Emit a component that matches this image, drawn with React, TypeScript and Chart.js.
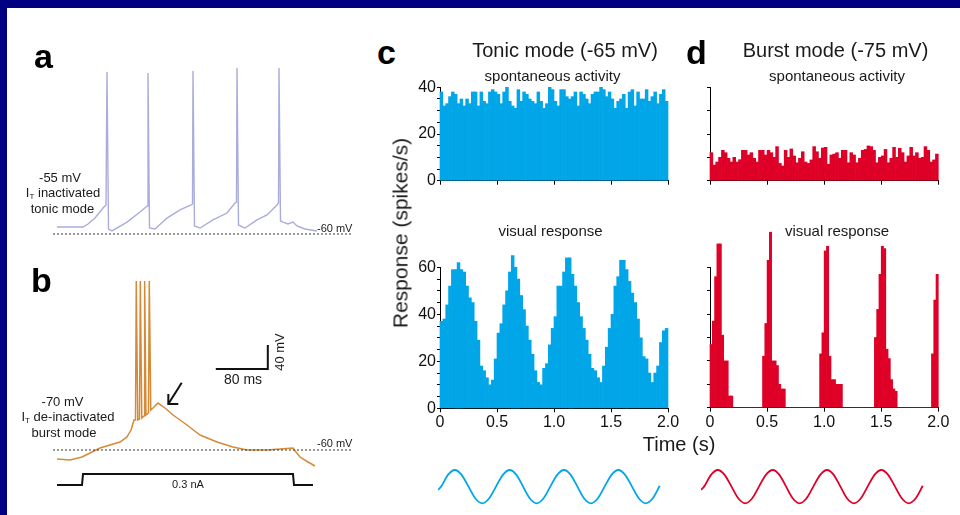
import React, { useEffect, useRef } from "react";
import { Chart, registerables } from "chart.js";

Chart.register(...registerables);

const FONT = "'Liberation Sans', Arial, Helvetica, sans-serif";
Chart.defaults.font.family = FONT;

const NAVY = "rgb(0,0,128)";
const BLUE = "rgb(0,166,232)";
const RED = "rgb(222,0,38)";
const LAVENDER = "rgb(170,172,220)";
const ORANGE = "rgb(214,138,56)";
const INK = "#1a1a1a";

// ---------- Panel c / d histograms (spikes/s per bin) ----------
const X_TICK_LABELS = ["0", "0.5", "1.0", "1.5", "2.0"];
const TONIC_BIN_S = 0.025;
const BURST_VIS_BIN_S = 0.02;

const tonicSpontaneous = [
  38, 32, 33, 36, 38, 37, 33, 35, 32, 35,
  33, 38, 38, 32, 38, 34, 33, 38, 39, 38,
  37, 33, 38, 40, 34, 32, 31, 39, 34, 38,
  37, 35, 34, 33, 38, 34, 31, 33, 40, 39,
  34, 32, 39, 39, 36, 35, 36, 38, 32, 38,
  37, 35, 33, 37, 38, 38, 40, 39, 36, 38,
  35, 31, 34, 35, 37, 31, 38, 39, 32, 38,
  35, 35, 39, 34, 36, 38, 33, 37, 39, 34,
];

const tonicVisual = [
  37, 38, 44, 52, 59, 59, 62, 59, 58, 52,
  47, 45, 37, 29, 18, 16, 13, 10, 12, 21,
  32, 36, 44, 50, 58, 65, 60, 55, 48, 42,
  35, 29, 23, 16, 11, 10, 17, 19, 27, 34,
  39, 52, 52, 58, 64, 64, 57, 52, 45, 39,
  34, 29, 23, 17, 16, 13, 11, 18, 26, 34,
  40, 52, 56, 63, 63, 59, 54, 49, 45, 38,
  30, 22, 21, 15, 11, 15, 18, 28, 33, 34,
];

const burstSpontaneous = [
  12, 6.7, 8, 10, 13, 12, 9.6, 8, 10, 8,
  9, 13, 13, 11, 12, 9.6, 8, 13, 13, 11,
  13, 12, 10, 14.6, 7.4, 6.3, 13, 10, 13.6, 10.6,
  7.7, 9.6, 12.4, 8, 7.4, 8.9, 14.6, 12.4, 9.6, 14,
  14.3, 7, 11, 11.4, 12, 9.6, 13, 13, 7.7, 12,
  11, 7.7, 9.6, 13, 13.4, 14.9, 14.6, 13, 7.7, 10,
  10.6, 13.4, 7.7, 9.6, 14.3, 10, 13.9, 12, 8, 10.6,
  14.3, 10.6, 12, 9.6, 10, 14.6, 13, 8, 8.9, 11.4,
];

const burstVisual = [
  27, 37, 56, 70, 70, 31, 20, 20, 5, 5,
  0, 0, 0, 0, 0, 0, 0, 0, 0, 0,
  0, 0, 0, 22, 36, 63, 75, 20, 20, 18,
  10, 8, 8, 0, 0, 0, 0, 0, 0, 0,
  0, 0, 0, 0, 0, 0, 0, 0, 23, 32,
  67, 69, 22, 12, 12, 10, 10, 10, 0, 0,
  0, 0, 0, 0, 0, 0, 0, 0, 0, 0,
  0, 0, 30, 42, 57, 69, 68, 25, 21, 12,
  8, 7, 0, 0, 0, 0, 0, 0, 0, 0,
  0, 0, 0, 0, 0, 0, 0, 23, 46, 57,
];

// ---------- Stimulus sine (normalised) ----------
const sineT = [
  0, 0.0275, 0.089, 0.15, 0.211, 0.2725, 0.334, 0.395, 0.456, 0.5175,
  0.579, 0.64, 0.7, 0.76, 0.82, 0.88, 0.941, 1.0025, 1.064, 1.125,
  1.185, 1.245, 1.305, 1.365, 1.426, 1.4875, 1.549, 1.61, 1.671, 1.7325,
  1.794, 1.855, 1.916, 1.98,
];
const sineV = [
  -0.2, 0, 0.71, 1, 0.71, 0, -0.71, -1, -0.71, 0,
  0.71, 1, 0.71, 0, -0.71, -1, -0.71, 0, 0.71, 1,
  0.71, 0, -0.71, -1, -0.71, 0, 0.71, 1, 0.71, 0,
  -0.71, -1, -0.71, 0.05,
];

// ---------- Panel a: tonic firing trace (ms, mV) ----------
const tonicTraceT = [
  7, 33, 38, 45, 53, 56, 57, 58.5, 62, 77, 90, 96,
  97.5, 98, 99.5, 105, 117, 130, 141,
  142.5, 143, 144.5, 150, 163, 177, 185,
  186.5, 187, 188.5, 195, 207, 217, 227,
  228.5, 229, 230.5, 233, 238, 243, 247, 255, 267,
];
const tonicTraceV = [
  -55.7, -55.7, -53.8, -50.1, -43.9, -42.0, 40.4, -56.9, -58.1, -52.6, -46.4, -43.3,
  -42.6, 39.8, -56.3, -56.9, -50.1, -45.1, -42.0,
  -41.4, 41.1, -55, -56.3, -51.3, -47.0, -40.8,
  -40.2, 42.9, -54.4, -56.3, -51.3, -48.2, -42.0,
  -40.8, 42.9, -51.9, -52.6, -53.8, -52.6, -55, -56.9, -58.1,
];

// ---------- Panel b: burst trace (ms, mV) and current step (ms, nA) ----------
const burstTraceT = [
  10.8, 30.8, 49.2, 61.5, 76.9, 92.3, 107.7, 118.4, 124.6, 129.2,
  131.5, 132.7, 135.0, 137.7, 138.9, 141.2, 144.6, 145.6, 147.6, 151.5,
  152.7, 155.0, 158.4, 166.1, 176.9, 189.2, 199.9, 210.7, 230.7, 256.8,
  281.5, 303.0, 333.7, 353.7, 373.7, 378.3, 384.5, 396.8, 407.6,
];
const burstTraceV = [
  -75, -76.7, -71.7, -65, -56.7, -51.7, -46.7, -38.3, -26.7, -10,
  -10, 221.7, -10, -8.3, 221.7, -6.7, -3.3, 221.7, -1.7, 1.7,
  221.7, 6.7, 10, 18.3, 10, -1.7, -10, -18.3, -35, -46.7,
  -55, -60, -60, -58.3, -56.7, -63.3, -71.7, -80, -86.7,
];
const currentT = [10.8, 49.2, 50.8, 373.7, 375.3, 404.5];
const currentNA = [0, 0, 0.3, 0.3, 0, 0];

const REST_MV = -60;
const SCALE_BAR_MS = [255, 335, 335];
const SCALE_BAR_MV = [75, 75, 115];
const ARROW_SHAFT_MS = [202.6, 182];
const ARROW_SHAFT_MV = [52.2, 16.7];
const ARROW_HEAD_MS = [182, 182, 197.3];
const ARROW_HEAD_MV = [33.3, 16.7, 16.7];

const pts = (xs: number[], ys: number[]) => xs.map((x, i) => ({ x, y: ys[i] }));

type HistProps = {
  left: number; top: number; width: number; height: number;
  values: number[]; bin: number; color: string;
  yMax: number; yStep: number; yLabelEvery: number | null;
  xLabels: boolean; yAxisW: number; padTop: number; padRight: number; xAxisH: number;
};

function Histogram(p: HistProps) {
  const ref = useRef<HTMLCanvasElement>(null);
  useEffect(() => {
    const chart = new Chart(ref.current as HTMLCanvasElement, {
      type: "bar",
      data: {
        datasets: [
          {
            data: p.values.map((v, i) => ({ x: (i + 0.5) * p.bin, y: v })),
            backgroundColor: p.color,
            borderWidth: 0,
            barPercentage: 1,
            categoryPercentage: 1,
            clip: false as any,
          },
        ],
      },
      options: {
        animation: false,
        responsive: false,
        maintainAspectRatio: false,
        layout: { padding: { top: p.padTop, right: p.padRight, left: 0, bottom: 0 } },
        plugins: { legend: { display: false }, tooltip: { enabled: false } },
        scales: {
          x: {
            type: "linear",
            min: 0,
            max: 2,
            offset: false,
            ticks: {
              stepSize: 0.5,
              autoSkip: false,
              maxRotation: 0,
              padding: 1,
              color: "#111",
              font: { size: 16, family: FONT },
              callback: (v: any) => {
                if (!p.xLabels) return "";
                const i = Math.round(Number(v) / 0.5);
                return X_TICK_LABELS[i] ?? "";
              },
            },
            grid: { offset: false, drawOnChartArea: false, drawTicks: true, tickLength: 4, color: "#000", lineWidth: 1 },
            border: { display: true, color: "#000", width: 1 },
            afterFit: (s: any) => { s.height = p.xAxisH; },
          },
          y: {
            type: "linear",
            min: 0,
            max: p.yMax,
            ticks: {
              stepSize: p.yStep,
              autoSkip: false,
              padding: 1,
              color: "#111",
              font: { size: 16, family: FONT },
              callback: (v: any) =>
                p.yLabelEvery !== null && Number(v) % p.yLabelEvery === 0 ? String(v) : "",
            },
            grid: { drawOnChartArea: false, drawTicks: true, tickLength: 3, color: "#000", lineWidth: 1 },
            border: { display: true, color: "#000", width: 1 },
            afterFit: (s: any) => { s.width = p.yAxisW; },
          },
        },
      } as any,
    });
    return () => chart.destroy();
  }, []);
  return (
    <canvas
      ref={ref}
      width={p.width}
      height={p.height}
      style={{ position: "absolute", left: p.left, top: p.top, width: p.width, height: p.height }}
    />
  );
}

type LineSet = { data: { x: number; y: number }[]; color: string; width: number; dash?: number[]; axis?: string; smooth?: boolean };
type TraceProps = {
  left: number; top: number; width: number; height: number;
  xMin: number; xMax: number; yMin: number; yMax: number;
  y2?: [number, number];
  sets: LineSet[];
};

function Trace(p: TraceProps) {
  const ref = useRef<HTMLCanvasElement>(null);
  useEffect(() => {
    const scales: any = {
      x: { type: "linear", min: p.xMin, max: p.xMax, display: false },
      y: { type: "linear", min: p.yMin, max: p.yMax, display: false },
    };
    if (p.y2) scales.y2 = { type: "linear", min: p.y2[0], max: p.y2[1], display: false };
    const chart = new Chart(ref.current as HTMLCanvasElement, {
      type: "scatter",
      data: {
        datasets: p.sets.map((s) => ({
          data: s.data,
          showLine: true,
          borderColor: s.color,
          backgroundColor: s.color,
          borderWidth: s.width,
          borderDash: s.dash ?? [],
          pointRadius: 0,
          yAxisID: s.axis ?? "y",
          cubicInterpolationMode: s.smooth ? "monotone" : "default",
          tension: 0,
          borderCapStyle: "butt",
          borderJoinStyle: "miter",
          clip: false as any,
        })),
      },
      options: {
        animation: false,
        responsive: false,
        maintainAspectRatio: false,
        layout: { padding: 0 },
        plugins: { legend: { display: false }, tooltip: { enabled: false } },
        scales,
      } as any,
    });
    return () => chart.destroy();
  }, []);
  return (
    <canvas
      ref={ref}
      width={p.width}
      height={p.height}
      style={{ position: "absolute", left: p.left, top: p.top, width: p.width, height: p.height }}
    />
  );
}

type TxtProps = {
  x: number; y: number; size: number; children: React.ReactNode;
  anchor?: "start" | "middle"; bold?: boolean; rotate?: boolean; color?: string;
};

function Txt({ x, y, size, children, anchor = "middle", bold = false, rotate = false, color = INK }: TxtProps) {
  const base: React.CSSProperties = {
    position: "absolute",
    fontFamily: FONT,
    fontSize: size,
    lineHeight: `${size}px`,
    fontWeight: bold ? 700 : 400,
    color,
    whiteSpace: "nowrap",
  };
  if (rotate) {
    return (
      <div style={{ ...base, left: x, top: y, transform: "translate(-50%,-50%) rotate(-90deg)" }}>{children}</div>
    );
  }
  return (
    <div
      style={{
        ...base,
        left: x,
        top: y - 0.8465 * size,
        transform: anchor === "middle" ? "translateX(-50%)" : undefined,
      }}
    >
      {children}
    </div>
  );
}

const Sub = ({ children }: { children: React.ReactNode }) => (
  <span style={{ fontSize: 8, position: "relative", top: 2 }}>{children}</span>
);

export default function App() {
  const sine = pts(sineT, sineV);
  return (
    <div style={{ position: "fixed", left: 0, top: 0, width: 960, height: 515, background: NAVY, overflow: "hidden" }}>
      <div style={{ position: "absolute", left: 7, top: 8, right: 0, bottom: 0, background: "#fff" }} />

      {/* Panel a */}
      <Trace
        left={50} top={60} width={310} height={180}
        xMin={0} xMax={310} yMin={-63.72} yMax={47.88}
        sets={[
          { data: pts([3, 303], [REST_MV, REST_MV]), color: "#333", width: 1, dash: [2, 2] },
          { data: pts(tonicTraceT, tonicTraceV), color: LAVENDER, width: 1.4 },
        ]}
      />

      {/* Panel b */}
      <Trace
        left={50} top={270} width={310} height={225}
        xMin={0} xMax={476.8} yMin={-135} yMax={240}
        y2={[-0.2727, 5.8636]}
        sets={[
          { data: pts([4.6, 466], [REST_MV, REST_MV]), color: "#333", width: 1, dash: [2, 2] },
          { data: pts(burstTraceT, burstTraceV), color: ORANGE, width: 1.5 },
          { data: pts(currentT, currentNA), color: "#111", width: 2, axis: "y2" },
          { data: pts(SCALE_BAR_MS, SCALE_BAR_MV), color: "#111", width: 2 },
          { data: pts(ARROW_SHAFT_MS, ARROW_SHAFT_MV), color: "#111", width: 2 },
          { data: pts(ARROW_HEAD_MS, ARROW_HEAD_MV), color: "#111", width: 2 },
        ]}
      />

      {/* Panel c */}
      <Histogram
        left={400} top={70} width={285} height={125}
        values={tonicSpontaneous} bin={TONIC_BIN_S} color={BLUE}
        yMax={40} yStep={5} yLabelEvery={20} xLabels={false}
        yAxisW={40} padTop={17.3} padRight={17} xAxisH={14.3}
      />
      <Histogram
        left={400} top={225} width={285} height={210}
        values={tonicVisual} bin={TONIC_BIN_S} color={BLUE}
        yMax={60} yStep={5} yLabelEvery={20} xLabels={true}
        yAxisW={40} padTop={42.3} padRight={17} xAxisH={26.7}
      />

      {/* Panel d */}
      <Histogram
        left={680} top={70} width={280} height={125}
        values={burstSpontaneous} bin={TONIC_BIN_S} color={RED}
        yMax={40} yStep={10} yLabelEvery={null} xLabels={false}
        yAxisW={30} padTop={17.3} padRight={21.7} xAxisH={14.3}
      />
      <Histogram
        left={680} top={225} width={280} height={210}
        values={burstVisual} bin={BURST_VIS_BIN_S} color={RED}
        yMax={60} yStep={10} yLabelEvery={null} xLabels={true}
        yAxisW={30} padTop={42.3} padRight={21.7} xAxisH={27.3}
      />

      {/* Stimulus sines */}
      <Trace
        left={438} top={465} width={224} height={44}
        xMin={0} xMax={2} yMin={-1.343} yMax={1.3}
        sets={[{ data: sine, color: BLUE, width: 1.8, smooth: true }]}
      />
      <Trace
        left={701.4} top={465} width={224} height={44}
        xMin={0} xMax={2} yMin={-1.343} yMax={1.3}
        sets={[{ data: sine, color: RED, width: 1.8, smooth: true }]}
      />

      {/* Panel letters */}
      <Txt x={34} y={68} size={34} bold anchor="start" color="#000">a</Txt>
      <Txt x={31} y={292} size={34} bold anchor="start" color="#000">b</Txt>
      <Txt x={377} y={64} size={34} bold anchor="start" color="#000">c</Txt>
      <Txt x={686} y={64} size={34} bold anchor="start" color="#000">d</Txt>

      {/* Panel a labels */}
      <Txt x={60} y={182} size={13}>-55 mV</Txt>
      <Txt x={63} y={197} size={13}>I<Sub>T</Sub> inactivated</Txt>
      <Txt x={62.5} y={213} size={13}>tonic mode</Txt>
      <Txt x={317} y={232} size={11} anchor="start">-60 mV</Txt>

      {/* Panel b labels */}
      <Txt x={62.5} y={406.5} size={13}>-70 mV</Txt>
      <Txt x={68} y={421.5} size={13}>I<Sub>T</Sub> de-inactivated</Txt>
      <Txt x={64} y={437.5} size={13}>burst mode</Txt>
      <Txt x={317} y={447.5} size={11} anchor="start">-60 mV</Txt>
      <Txt x={188} y={488} size={11}>0.3 nA</Txt>
      <Txt x={243} y={384} size={14}>80 ms</Txt>
      <Txt x={278.5} y={352} size={13} rotate>40 mV</Txt>

      {/* Panel c/d titles */}
      <Txt x={565} y={57} size={20}>Tonic mode (-65 mV)</Txt>
      <Txt x={835.5} y={57} size={20}>Burst mode (-75 mV)</Txt>
      <Txt x={552.5} y={81} size={15}>spontaneous activity</Txt>
      <Txt x={837} y={81} size={15}>spontaneous activity</Txt>
      <Txt x={550.5} y={236} size={15}>visual response</Txt>
      <Txt x={837} y={236} size={15}>visual response</Txt>
      <Txt x={400} y={233} size={21} rotate>Response (spikes/s)</Txt>
      <Txt x={679} y={451} size={20}>Time (s)</Txt>
    </div>
  );
}
